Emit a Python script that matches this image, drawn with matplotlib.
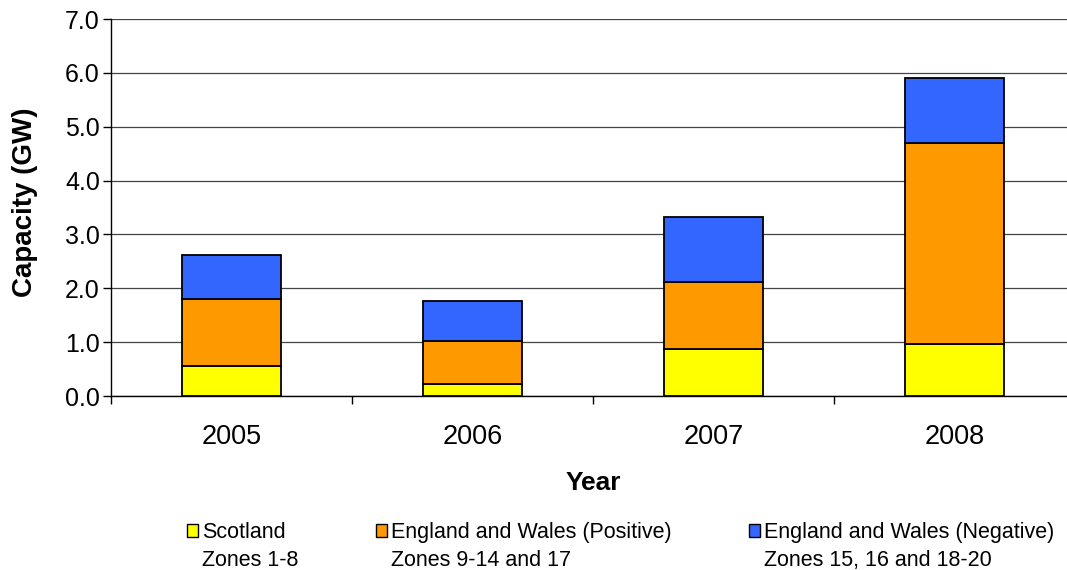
import matplotlib
matplotlib.use("Agg")
import matplotlib.pyplot as plt
from matplotlib.patches import Rectangle
import numpy as np

plt.rcParams['font.family'] = ['Liberation Sans', 'DejaVu Sans']

years = ['2005', '2006', '2007', '2008']
scotland = [0.56, 0.22, 0.87, 0.96]
ew_positive = [1.24, 0.80, 1.25, 3.74]
ew_negative = [0.81, 0.74, 1.20, 1.20]

series_names = ['Scotland', 'England and Wales (Positive)', 'England and Wales (Negative)']
zone_names = ['Zones 1-8', 'Zones 9-14 and 17', 'Zones 15, 16 and 18-20']
colors = ['#FFFF00', '#FF9900', '#3366FF']

fig = plt.figure(figsize=(10.67, 5.70), dpi=100)
ax = fig.add_axes([111 / 1067, 1 - 396 / 570, 964 / 1067, 377 / 570])

x = np.arange(len(years))
bottom = np.zeros(len(years))
for vals, col in zip([scotland, ew_positive, ew_negative], colors):
    ax.bar(x, vals, width=0.41, bottom=bottom, color=col, edgecolor='black',
           linewidth=1.3, zorder=3)
    bottom += np.array(vals)

ax.set_xlim(-0.5, len(years) - 0.5)
ax.set_ylim(0, 7)
ax.set_yticks(np.arange(0, 8, 1))
ax.set_yticklabels([f'{v:.1f}' for v in np.arange(0, 8, 1)])
ax.yaxis.grid(True, color='#444444', linewidth=0.9, zorder=0)

ax.set_xticks(x)
ax.set_xticklabels(years)
ax.set_xticks(np.arange(-0.5, len(years), 1), minor=True)
ax.tick_params(axis='x', which='major', length=0, pad=20, labelsize=19.5)
ax.tick_params(axis='x', which='minor', length=6, width=1, direction='out')
ax.tick_params(axis='y', length=6, width=1, direction='out', labelsize=18, pad=2)

for side in ['top', 'right']:
    ax.spines[side].set_visible(False)
for side in ['left', 'bottom']:
    ax.spines[side].set_linewidth(1.0)
    ax.spines[side].set_color('black')

ax.set_ylabel('Capacity (GW)', fontsize=20, fontweight='bold')
ax.yaxis.set_label_coords(-0.076, 0.513)
ax.set_xlabel('Year', fontsize=19, fontweight='bold', labelpad=15)

# Two-row legend: coloured squares beside the series names, zone notes underneath
handles = []
labels = []
for col, name, zones in zip(colors, series_names, zone_names):
    handles.append(Rectangle((0, 0), 1, 1, facecolor=col, edgecolor='black', linewidth=1.0))
    labels.append(name)
    handles.append(Rectangle((0, 0), 1, 1, facecolor='none', edgecolor='none'))
    labels.append(zones)

fig.legend(handles, labels, ncol=3, loc='center', bbox_to_anchor=(0.582, 0.041),
           frameon=False, fontsize=15.5, handlelength=0.5, handleheight=0.5,
           handletextpad=0.2, columnspacing=3.6, labelspacing=0.32)

fig.savefig('out.png', dpi=100)
